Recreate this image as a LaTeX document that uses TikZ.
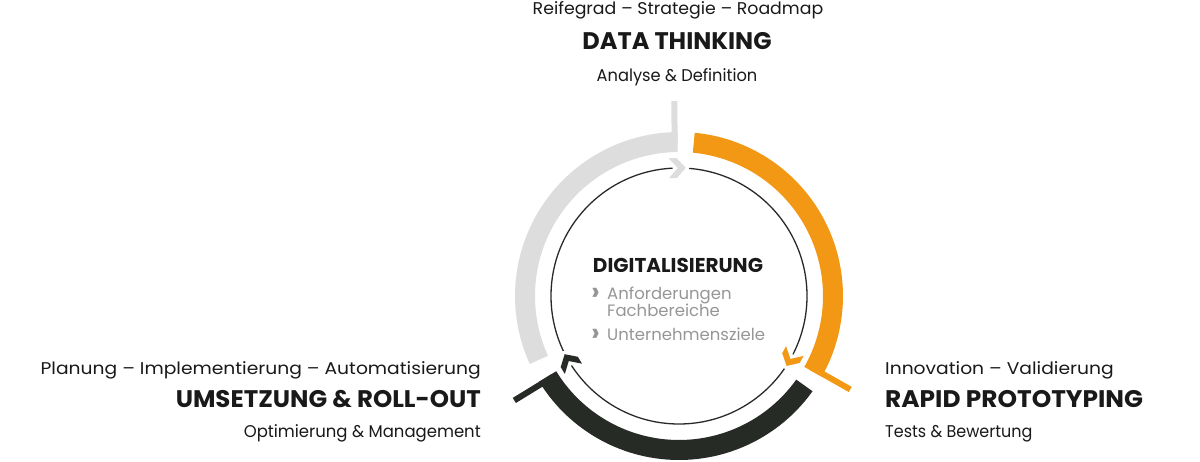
\documentclass[tikz,border=0pt]{standalone}
\usepackage{graphicx}
\usepackage{fontspec}
\setmainfont{Poppins}
\usetikzlibrary{calc}
\definecolor{ringgray}{RGB}{221,221,221}
\definecolor{ringorange}{RGB}{242,152,20}
\definecolor{ringdark}{RGB}{39,43,38}
\definecolor{txtdark}{RGB}{25,25,25}
\definecolor{txtgray}{RGB}{150,150,150}
\begin{document}
\begin{tikzpicture}[x=1pt,y=1pt,
  subtxt/.style={inner sep=0pt, font=\fontsize{17}{20}\selectfont, text=txtdark},
  headtxt/.style={inner sep=0pt, font=\fontsize{24}{28}\selectfont\bfseries, text=txtdark},
  centerhead/.style={inner sep=0pt, font=\fontsize{20}{24}\selectfont\bfseries, text=txtdark},
  bullettxt/.style={inner sep=0pt, font=\fontsize{16.5}{20}\selectfont, text=txtgray},
  bulletmark/.style={inner sep=0pt, font=\fontsize{26}{30}\selectfont\bfseries, text=txtgray}]
\useasboundingbox (0,0) rectangle (1200,461);
\coordinate (c) at (679,165);
% ring bands with ticks
\foreach \s/\e/\col in {90.5/204.5/ringgray, -29.5/84.5/ringorange, 211.5/324.5/ringdark} {
  \fill[\col] ($(c)+(\s:164pt)$) arc[start angle=\s, end angle=\e, radius=164pt]
     -- ($(c)+(\e:144pt)$) arc[start angle=\e, end angle=\s, radius=144pt] -- cycle;
  \fill[\col] ($(c)+(\s:150pt)$) -- ($(c)+(\s:195pt)$) -- ($(c)+(\s:195pt)+(\s+90:6pt)$)
     -- ($(c)+(\s:150pt)+(\s+90:6pt)$) -- cycle;
}
% inner circle
\draw[ringdark, line width=1.3pt] (c) circle[radius=128pt];
% chevrons on inner circle
\foreach \a/\col in {91/ringgray, -29/ringorange, 211/ringdark} {
  \begin{scope}[shift={($(c)+(\a:128pt)$)}, rotate=\a-90]
    \filldraw[white, line width=7pt, line join=round] (-8,10) -- (0,10) -- (9,0) -- (0,-10) -- (-8,-10) -- (1,0) -- cycle;
    \fill[\col] (-8,10) -- (0,10) -- (9,0) -- (0,-10) -- (-8,-10) -- (1,0) -- cycle;
  \end{scope}
}
% top texts
\node[subtxt, anchor=base] (t1) at (678,446) {\scalebox{1.02}[1]{Reifegrad – Strategie – Roadmap}};
\node[headtxt, anchor=base] (t2) at (677,411) {DATA THINKING};
\node[subtxt, anchor=base] (t3) at (677,379) {\scalebox{0.955}[1]{Analyse \& Definition}};
% left texts
\node[subtxt, anchor=base east] (l1) at (481,87) {\scalebox{1.1}[1]{Planung – Implementierung – Automatisierung}};
\node[headtxt, anchor=base east] (l2) at (481,54) {\scalebox{1.02}[1]{UMSETZUNG \& ROLL-OUT}};
\node[subtxt, anchor=base east] (l3) at (481,24) {\scalebox{0.97}[1]{Optimierung \& Management}};
% right texts
\node[subtxt, anchor=base west] (r1) at (885,87) {\scalebox{1.1}[1]{Innovation – Validierung}};
\node[headtxt, anchor=base west] (r2) at (885,54) {\scalebox{1.035}[1]{RAPID PROTOTYPING}};
\node[subtxt, anchor=base west] (r3) at (885,24) {\scalebox{0.94}[1]{Tests \& Bewertung}};
% center
\node[centerhead, anchor=base] (m0) at (678,188) {DIGITALISIERUNG};
\node[bulletmark, anchor=base west] (b1) at (591,160) {›};
\node[bullettxt, anchor=base west] (m1) at (607,161) {Anforderungen};
\node[bullettxt, anchor=base west] (m2) at (607,144) {Fachbereiche};
\node[bulletmark, anchor=base west] (b2) at (591,120) {›};
\node[bullettxt, anchor=base west] (m3) at (607,121) {Unternehmensziele};
\end{tikzpicture}
\end{document}
